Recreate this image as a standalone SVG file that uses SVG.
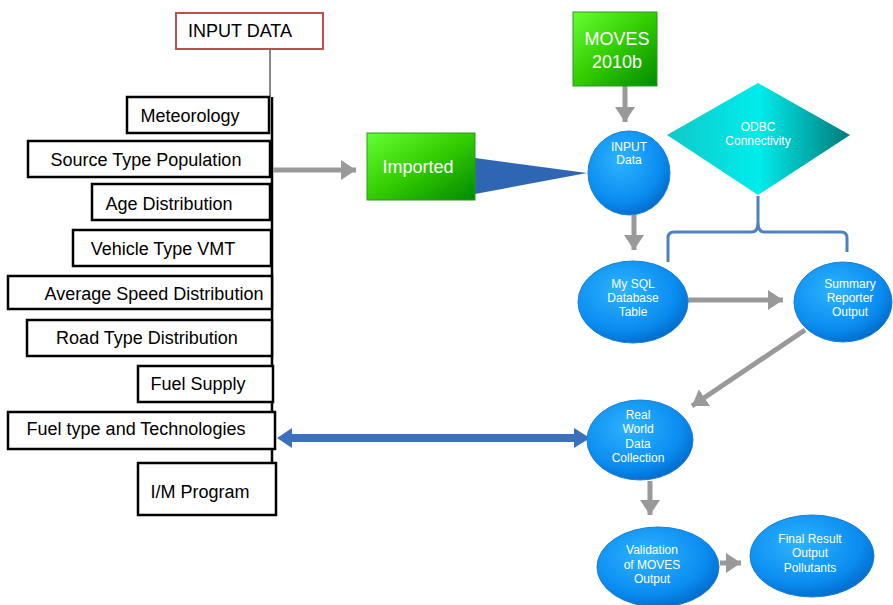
<svg xmlns="http://www.w3.org/2000/svg" width="893" height="605" viewBox="0 0 893 605">
<style>
.box{fill:#fff;stroke:#000;stroke-width:2.5}
.lt{font-family:"Liberation Sans",Arial,sans-serif;font-size:18px;fill:#000;text-anchor:middle}
.wt{font-family:"Liberation Sans",Arial,sans-serif;font-size:12px;fill:#fff;text-anchor:middle}
.gt{font-family:"Liberation Sans",Arial,sans-serif;font-size:18px;fill:#fff;text-anchor:middle}
.ga{stroke:#999;stroke-width:5;fill:none;marker-end:url(#gh)}
.ell{fill:url(#bl);stroke:#1a7fd8;stroke-width:1}
</style>
<defs>
<marker id="gh" markerWidth="4" markerHeight="4" refX="3" refY="2" orient="auto" markerUnits="strokeWidth">
<path d="M0,0 L3,2 L0,4 Z" fill="#999"/>
</marker>
<linearGradient id="gr" x1="0" y1="0" x2="1" y2="1">
<stop offset="0" stop-color="#66ff33"/>
<stop offset="0.5" stop-color="#33cc00"/>
<stop offset="1" stop-color="#008a00"/>
</linearGradient>
<linearGradient id="tl" x1="0" y1="0" x2="1" y2="0">
<stop offset="0" stop-color="#10c8c8"/>
<stop offset="0.5" stop-color="#00ecec"/>
<stop offset="1" stop-color="#007a7a"/>
</linearGradient>
<radialGradient id="bl" cx="0.4" cy="0.35" r="0.7">
<stop offset="0" stop-color="#2db4ff"/>
<stop offset="0.7" stop-color="#0a8cf0"/>
<stop offset="1" stop-color="#0068c8"/>
</radialGradient>
</defs>

<g id="connectors">
<line x1="270" y1="49" x2="270" y2="97" stroke="#888" stroke-width="2"/>
<line x1="272" y1="97" x2="272" y2="515" stroke="#000" stroke-width="2.5"/>
<line x1="273" y1="170" x2="356" y2="170" class="ga"/>
<line x1="625" y1="86" x2="625" y2="122" class="ga"/>
<line x1="634" y1="215" x2="634" y2="250" class="ga"/>
<line x1="688" y1="300" x2="783" y2="300" class="ga"/>
<line x1="805" y1="330" x2="692" y2="406" class="ga"/>
<line x1="650" y1="481" x2="650" y2="515" class="ga"/>
<line x1="720" y1="563" x2="741" y2="563" class="ga"/>
<polygon points="475,158 475,194 587,173" fill="#2e66b4"/>
<path d="M277,438 L292,428 L292,434 L574,434 L574,428 L590,438 L574,448 L574,442 L292,442 L292,448 Z" fill="#3a70be"/>
<path d="M668,262 L668,238 Q668,232 674,232 L752,232 Q758,232 758,222 L758,196 M758,222 Q758,232 764,232 L841,232 Q847,232 847,238 L847,252" fill="none" stroke="#4f81bd" stroke-width="3"/>
</g>

<g id="input-data">
<rect x="176" y="13" width="147" height="36" fill="#fff" stroke="#c0504d" stroke-width="2"/>
<text x="240" y="37" class="lt" font-size="17.5">INPUT DATA</text>
</g>
<g id="meteorology"><rect x="127" y="97" width="142" height="36" class="box"/><text x="190" y="122" class="lt">Meteorology</text></g>
<g id="source-type-population"><rect x="28" y="141" width="242" height="36" class="box"/><text x="146" y="166" class="lt">Source Type Population</text></g>
<g id="age-distribution"><rect x="92" y="184" width="178" height="36" class="box"/><text x="169" y="210" class="lt">Age Distribution</text></g>
<g id="vehicle-type-vmt"><rect x="73" y="230" width="198" height="36" class="box"/><text x="163" y="255" class="lt">Vehicle Type VMT</text></g>
<g id="average-speed-distribution"><rect x="8" y="276" width="264" height="33" class="box"/><text x="154" y="300" class="lt">Average Speed Distribution</text></g>
<g id="road-type-distribution"><rect x="27" y="320" width="245" height="36" class="box"/><text x="147" y="344" class="lt">Road Type Distribution</text></g>
<g id="fuel-supply"><rect x="138" y="366" width="135" height="36" class="box"/><text x="198" y="390" class="lt">Fuel Supply</text></g>
<g id="fuel-type-technologies"><rect x="8" y="412" width="267" height="37" class="box"/><text x="136" y="435" class="lt">Fuel type and Technologies</text></g>
<g id="im-program"><rect x="138" y="463" width="138" height="52" class="box"/><text x="200" y="498" class="lt">I/M Program</text></g>

<g id="imported">
<rect x="367" y="133" width="108" height="67" fill="url(#gr)" stroke="#2a9a1a" stroke-width="1"/>
<text x="418" y="173" class="gt">Imported</text>
</g>
<g id="moves">
<rect x="573" y="12" width="84" height="74" fill="url(#gr)" stroke="#2a9a1a" stroke-width="1"/>
<text x="617" y="45" class="gt">MOVES</text>
<text x="617" y="68" class="gt">2010b</text>
</g>
<g id="odbc">
<polygon points="758,83 850,135 758,195 667,135" fill="url(#tl)"/>
<text x="758" y="131" class="wt" font-size="11">ODBC</text>
<text x="758" y="145" class="wt" font-size="11">Connectivity</text>
</g>
<g id="input-data-circle">
<ellipse cx="629" cy="173" rx="41" ry="42" class="ell"/>
<text x="629" y="151" class="wt" font-size="11">INPUT</text>
<text x="629" y="164" class="wt" font-size="11">Data</text>
</g>
<g id="mysql">
<ellipse cx="633" cy="302" rx="55" ry="41" class="ell"/>
<text x="633" y="288" class="wt">My SQL</text>
<text x="633" y="302" class="wt">Database</text>
<text x="633" y="316" class="wt">Table</text>
</g>
<g id="summary">
<ellipse cx="843" cy="302" rx="49" ry="40" class="ell"/>
<text x="850" y="288" class="wt">Summary</text>
<text x="850" y="302" class="wt">Reporter</text>
<text x="850" y="316" class="wt">Output</text>
</g>
<g id="real-world">
<ellipse cx="640" cy="440" rx="53" ry="40" class="ell"/>
<text x="638" y="419" class="wt">Real</text>
<text x="638" y="433" class="wt">World</text>
<text x="638" y="448" class="wt">Data</text>
<text x="638" y="462" class="wt">Collection</text>
</g>
<g id="validation">
<ellipse cx="658" cy="567" rx="61" ry="40" class="ell"/>
<text x="652" y="554" class="wt">Validation</text>
<text x="652" y="569" class="wt">of MOVES</text>
<text x="652" y="583" class="wt">Output</text>
</g>
<g id="final-result">
<ellipse cx="812" cy="556" rx="62" ry="41" class="ell"/>
<text x="810" y="543" class="wt">Final Result</text>
<text x="810" y="557" class="wt">Output</text>
<text x="810" y="572" class="wt">Pollutants</text>
</g>
</svg>
